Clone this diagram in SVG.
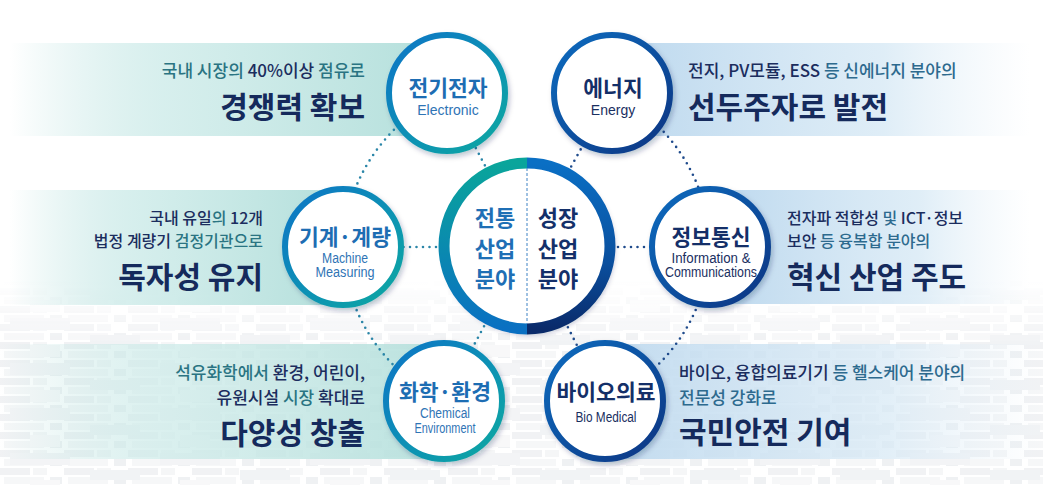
<svg xmlns="http://www.w3.org/2000/svg" width="1043" height="485" viewBox="0 0 1043 485">
<defs>
<style>
.kr{font-family:"Noto Sans CJK KR","Noto Sans",sans-serif}
.en{font-family:"Liberation Sans",Arial,sans-serif}
.sub{font-size:16px;font-weight:500}
.subL{font-size:17px;font-weight:500}
.big{font-size:30px;font-weight:700;fill:#152a5c}
.nv{fill:#1b2d5e}
.tl{fill:#2a7482}
.bl{fill:#2d6a8e}
.ttlL{font-size:21.5px;font-weight:700;fill:#1d6db3}
.ttlR{font-size:21.5px;font-weight:700;fill:#142f68}
.enL{font-size:14px;fill:#2f74b5}
.enR{font-size:14px;fill:#1a2f5f}
.ringL{fill:#fff;stroke:url(#gTeal);stroke-width:6}
.ringR{fill:#fff;stroke:url(#gNavy);stroke-width:6}
.dotL{fill:none;stroke:#2b86a8;stroke-width:2.6;stroke-linecap:round;stroke-dasharray:0 6.5}
.dotR{fill:none;stroke:#1f4b8c;stroke-width:2.6;stroke-linecap:round;stroke-dasharray:0 6.5}
</style>
<linearGradient id="gTeal" x1="0" y1="0" x2="1" y2="1">
<stop offset="0" stop-color="#0b74c6"/><stop offset="0.55" stop-color="#0c92b4"/><stop offset="1" stop-color="#10a8a0"/>
</linearGradient>
<linearGradient id="gNavy" x1="0" y1="0" x2="1" y2="1">
<stop offset="0" stop-color="#0a6cbf"/><stop offset="1" stop-color="#0b3582"/>
</linearGradient>
<linearGradient id="cL" x1="0" y1="0" x2="0" y2="1">
<stop offset="0" stop-color="#0aa59b"/><stop offset="1" stop-color="#0a70c2"/>
</linearGradient>
<linearGradient id="cR" x1="0" y1="0" x2="0" y2="1">
<stop offset="0" stop-color="#0a6fc4"/><stop offset="0.6" stop-color="#0a4f9e"/><stop offset="1" stop-color="#0a2a6a"/>
</linearGradient>
<linearGradient id="bandL" x1="0" y1="0" x2="1" y2="0">
<stop offset="0" stop-color="#b5e0dd" stop-opacity="0"/><stop offset="0.35" stop-color="#cdebe9" stop-opacity="0.8"/><stop offset="1" stop-color="#b3dfdb"/>
</linearGradient>
<linearGradient id="bandR" x1="0" y1="0" x2="1" y2="0">
<stop offset="0" stop-color="#bcd8ee"/><stop offset="0.65" stop-color="#d7e9f5" stop-opacity="0.8"/><stop offset="1" stop-color="#e4f0f8" stop-opacity="0"/>
</linearGradient>
<linearGradient id="fadeV" x1="0" y1="0" x2="0" y2="1">
<stop offset="0" stop-color="#fff" stop-opacity="0"/><stop offset="0.3" stop-color="#fff" stop-opacity="1"/><stop offset="1" stop-color="#fff" stop-opacity="1"/>
</linearGradient>
<mask id="bgMask" maskUnits="userSpaceOnUse" x="0" y="280" width="1043" height="205">
<rect x="0" y="280" width="1043" height="205" fill="url(#fadeV)"/>
</mask>
<pattern id="pA" width="64" height="18" patternUnits="userSpaceOnUse">
<rect x="0" y="0" width="30" height="7" fill="#e4e6ea"/>
<rect x="33" y="0" width="14" height="7" fill="#eceef1"/>
<rect x="50" y="9" width="12" height="7" fill="#e1e4e8"/>
<rect x="4" y="9" width="40" height="7" fill="#eff0f3"/>
</pattern>
<pattern id="pB" width="150" height="45" patternUnits="userSpaceOnUse">
<rect x="10" y="3" width="60" height="12" fill="#e8eaee"/>
<rect x="90" y="20" width="50" height="10" fill="#e5e8ec"/>
<rect x="30" y="30" width="30" height="12" fill="#f2f3f5"/>
</pattern>
<filter id="sh" x="-20%" y="-20%" width="150%" height="150%">
<feDropShadow dx="2" dy="3" stdDeviation="2.5" flood-color="#0a2050" flood-opacity="0.25"/>
</filter>
</defs>

<rect width="1043" height="485" fill="#ffffff"/>
<g mask="url(#bgMask)" opacity="0.5">
<rect x="0" y="280" width="1043" height="205" fill="url(#pA)"/>
<rect x="0" y="280" width="1043" height="205" fill="url(#pB)"/>
</g>

<g id="bands">
<rect x="10" y="43" width="437" height="93" fill="url(#bandL)"/>
<rect x="612" y="43" width="418" height="93" fill="url(#bandR)"/>
<rect x="10" y="190" width="333" height="115" fill="url(#bandL)"/>
<rect x="710" y="190" width="320" height="114" fill="url(#bandR)"/>
<rect x="0" y="344" width="444" height="115" fill="url(#bandL)" opacity="0.9"/>
<rect x="605" y="344" width="438" height="115" fill="url(#bandR)" opacity="0.9"/>
</g>

<g id="connectors">
<path class="dotL" d="M447 93 A180 176 0 0 0 343 247"/>
<path class="dotL" d="M343 247 A180 176 0 0 0 444 401"/>
<path class="dotR" d="M612 93 A180 176 0 0 1 710 247"/>
<path class="dotR" d="M710 247 A180 176 0 0 1 605 401"/>
<line class="dotL" x1="527" y1="246" x2="447" y2="93"/>
<line class="dotL" x1="527" y1="247" x2="343" y2="247"/>
<line class="dotL" x1="527" y1="246" x2="444" y2="401"/>
<line class="dotR" x1="527" y1="246" x2="612" y2="93"/>
<line class="dotR" x1="527" y1="247" x2="710" y2="247"/>
<line class="dotR" x1="527" y1="246" x2="605" y2="401"/>
</g>

<g id="center">
<circle cx="527" cy="246" r="86" fill="#fff" filter="url(#sh)"/>
<path d="M527 163 A83 83 0 0 0 527 329" fill="none" stroke="url(#cL)" stroke-width="11"/>
<path d="M527 163 A83 83 0 0 1 527 329" fill="none" stroke="url(#cR)" stroke-width="11"/>
<line x1="527" y1="168" x2="527" y2="324" stroke="#3f82c4" stroke-width="1" stroke-dasharray="3 2"/>
<text class="kr" x="495" y="226" text-anchor="middle" font-size="22" font-weight="700" fill="#1f6fb5">전통</text>
<text class="kr" x="495" y="257" text-anchor="middle" font-size="22" font-weight="700" fill="#1f6fb5">산업</text>
<text class="kr" x="495" y="287" text-anchor="middle" font-size="22" font-weight="700" fill="#1f6fb5">분야</text>
<text class="kr" x="558" y="226" text-anchor="middle" font-size="22" font-weight="700" fill="#14306a">성장</text>
<text class="kr" x="558" y="257" text-anchor="middle" font-size="22" font-weight="700" fill="#14306a">산업</text>
<text class="kr" x="558" y="287" text-anchor="middle" font-size="22" font-weight="700" fill="#14306a">분야</text>
</g>

<g id="n-electronic">
<circle class="ringL" cx="447" cy="93" r="58" filter="url(#sh)"/>
<text class="kr ttlL" x="448" y="96" text-anchor="middle">전기전자</text>
<text class="en enL" x="448" y="115" text-anchor="middle">Electronic</text>
<text class="kr subL" x="365" y="77" text-anchor="end"><tspan class="tl">국내 시장의 </tspan><tspan class="nv">40%이상 </tspan><tspan class="tl">점유로</tspan></text>
<text class="kr big" x="365" y="118" text-anchor="end">경쟁력 확보</text>
</g>

<g id="n-energy">
<circle class="ringR" cx="612" cy="93" r="58" filter="url(#sh)"/>
<text class="kr ttlR" x="613" y="96" text-anchor="middle">에너지</text>
<text class="en enR" x="613" y="115" text-anchor="middle">Energy</text>
<text class="kr subL" x="688" y="77"><tspan class="nv">전지, PV모듈, ESS </tspan><tspan class="bl">등 신에너지 분야의</tspan></text>
<text class="kr big" x="688" y="118">선두주자로 발전</text>
</g>

<g id="n-machine">
<circle class="ringL" cx="343" cy="247" r="58" filter="url(#sh)"/>
<text class="kr ttlL" x="345" y="245" text-anchor="middle">기계·계량</text>
<text class="en enL" x="345" y="263" text-anchor="middle" textLength="46" lengthAdjust="spacingAndGlyphs">Machine</text>
<text class="en enL" x="345" y="277" text-anchor="middle" textLength="59" lengthAdjust="spacingAndGlyphs">Measuring</text>
<text class="kr sub" x="263" y="224" text-anchor="end"><tspan class="nv">국내 유일</tspan><tspan class="tl">의 </tspan><tspan class="nv">12개</tspan></text>
<text class="kr sub" x="263" y="247" text-anchor="end"><tspan class="nv">법정 계량기 </tspan><tspan class="tl">검정기관으로</tspan></text>
<text class="kr big" x="263" y="288" text-anchor="end">독자성 유지</text>
</g>

<g id="n-ict">
<circle class="ringR" cx="710" cy="247" r="58" filter="url(#sh)"/>
<text class="kr ttlR" x="711" y="245" text-anchor="middle">정보통신</text>
<text class="en enR" x="711" y="263" text-anchor="middle" textLength="79" lengthAdjust="spacingAndGlyphs">Information &amp;</text>
<text class="en enR" x="711" y="277" text-anchor="middle" textLength="92" lengthAdjust="spacingAndGlyphs">Communications</text>
<text class="kr sub" x="787" y="224"><tspan class="nv">전자파 적합성 </tspan><tspan class="bl">및 </tspan><tspan class="nv">ICT·정보</tspan></text>
<text class="kr sub" x="787" y="247"><tspan class="nv">보안 </tspan><tspan class="bl">등 융복합 분야의</tspan></text>
<text class="kr big" x="787" y="288">혁신 산업 주도</text>
</g>

<g id="n-chemical">
<circle class="ringL" cx="444" cy="401" r="58" filter="url(#sh)"/>
<text class="kr ttlL" x="445" y="400" text-anchor="middle">화학·환경</text>
<text class="en enL" x="445" y="418" text-anchor="middle" textLength="50" lengthAdjust="spacingAndGlyphs">Chemical</text>
<text class="en enL" x="445" y="433" text-anchor="middle" textLength="61" lengthAdjust="spacingAndGlyphs">Environment</text>
<text class="kr subL" x="365" y="379" text-anchor="end"><tspan class="tl">석유화학에서 </tspan><tspan class="nv">환경, 어린이,</tspan></text>
<text class="kr subL" x="365" y="404" text-anchor="end"><tspan class="nv">유원시설 </tspan><tspan class="tl">시장 </tspan><tspan class="nv">확대로</tspan></text>
<text class="kr big" x="365" y="444" text-anchor="end">다양성 창출</text>
</g>

<g id="n-bio">
<circle class="ringR" cx="605" cy="401" r="58" filter="url(#sh)"/>
<text class="kr ttlR" x="606" y="400" text-anchor="middle">바이오의료</text>
<text class="en enR" x="606" y="422" text-anchor="middle" textLength="61" lengthAdjust="spacingAndGlyphs">Bio Medical</text>
<text class="kr subL" x="679" y="379"><tspan class="nv">바이오, 융합의료기기 </tspan><tspan class="bl">등 헬스케어 분야의</tspan></text>
<text class="kr subL bl" x="679" y="404">전문성 강화로</text>
<text class="kr big" x="679" y="443">국민안전 기여</text>
</g>
</svg>
